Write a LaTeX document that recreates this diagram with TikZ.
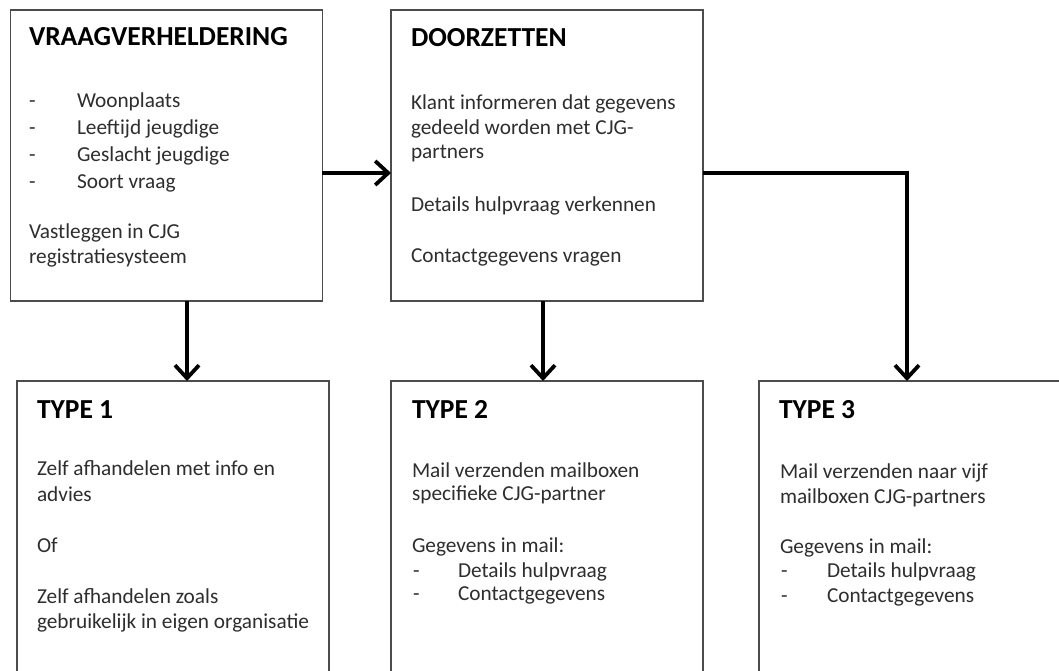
\documentclass[tikz,border=0pt]{standalone}
\usepackage{fontspec}
\setmainfont{Carlito}
\usetikzlibrary{arrows.meta}
\begin{document}
\begin{tikzpicture}[x=1pt,y=-1pt,
  box/.style={draw=black!70, line width=1.1pt, inner sep=0pt, outer sep=0pt, fill=white},
  txt/.style={anchor=base west, inner sep=0pt, outer sep=0pt, text=black!82, font=\fontsize{21.3}{25}\selectfont},
  ttl/.style={anchor=base west, inner sep=0pt, outer sep=0pt, text=black, font=\fontsize{27.5}{32}\selectfont\bfseries},
  conn/.style={line width=4pt, black, -{Straight Barb[length=13pt,width=24pt,line width=3.8pt]}}]
\useasboundingbox (0,0) rectangle (1059,671);
\clip (0,0) rectangle (1059,671);
\fill[white] (0,0) rectangle (1059,671);
% boxes
\node[box, anchor=north west, minimum width=312pt, minimum height=291pt] (A) at (10.5,10) {};
\node[box, anchor=north west, minimum width=312pt, minimum height=291pt] (B) at (391,10) {};
\node[box, anchor=north west, minimum width=312pt, minimum height=320pt] (T1) at (17,381) {};
\node[box, anchor=north west, minimum width=312pt, minimum height=320pt] (T2) at (391,381) {};
\node[box, anchor=north west, minimum width=330pt, minimum height=320pt] (T3) at (759,381) {};
% connector coordinates
\coordinate (a1) at (187,301);
\coordinate (t1) at (187,381);
\coordinate (b2) at (543,301);
\coordinate (t2) at (543,381);
\coordinate (ar) at (322,173);
\coordinate (bl) at (391,173);
\coordinate (br) at (703,173);
\coordinate (bend) at (907,173);
\coordinate (t3) at (907,381);
\draw[conn] (ar) -- (bl);
\draw[conn] (a1) -- (t1);
\draw[conn] (b2) -- (t2);
\draw[conn] (br) -- (bend) -- (t3);
% Box A text
\node[ttl] (Ah) at (29,46) {VRAAGVERHELDERING};
\node[txt] (Ad1) at (29,108) {-};
\node[txt] (Ad2) at (29,135) {-};
\node[txt] (Ad3) at (29,162) {-};
\node[txt] (Ad4) at (29,189) {-};
\node[txt] (Ai1) at (77,108) {Woonplaats};
\node[txt] (Ai2) at (77,135) {Leeftijd jeugdige};
\node[txt] (Ai3) at (77,162) {Geslacht jeugdige};
\node[txt] (Ai4) at (77,189) {Soort vraag};
\node[txt] (Al1) at (29,238) {Vastleggen in CJG};
\node[txt] (Al2) at (29,263) {registratiesysteem};
% Box B text
\node[ttl] (Bh) at (411,47) {DOORZETTEN};
\node[txt] (Bl1) at (411,110) {Klant informeren dat gegevens};
\node[txt] (Bl2) at (411,135) {gedeeld worden met CJG-};
\node[txt] (Bl3) at (411,159) {partners};
\node[txt] (Bl4) at (411,211) {Details hulpvraag verkennen};
\node[txt] (Bl5) at (411,262) {Contactgegevens vragen};
% Type 1
\node[ttl] (T1h) at (37,418) {TYPE 1};
\node[txt] (T1l1) at (37,475) {Zelf afhandelen met info en};
\node[txt] (T1l2) at (37,501) {advies};
\node[txt] (T1l3) at (37,552) {Of};
\node[txt] (T1l4) at (37,603) {Zelf afhandelen zoals};
\node[txt] (T1l5) at (37,628) {gebruikelijk in eigen organisatie};
% Type 2
\node[ttl] (T2h) at (412,418) {TYPE 2};
\node[txt] (T2l1) at (412,477) {Mail verzenden mailboxen};
\node[txt] (T2l2) at (412,500) {specifieke CJG-partner};
\node[txt] (T2l3) at (412,552) {Gegevens in mail:};
\node[txt] (T2d1) at (413,577) {-};
\node[txt] (T2d2) at (413,600) {-};
\node[txt] (T2i1) at (458,577) {Details hulpvraag};
\node[txt] (T2i2) at (458,600) {Contactgegevens};
% Type 3
\node[ttl] (T3h) at (779,418) {TYPE 3};
\node[txt] (T3l1) at (780,478) {Mail verzenden naar vijf};
\node[txt] (T3l2) at (780,503) {mailboxen CJG-partners};
\node[txt] (T3l3) at (780,553) {Gegevens in mail:};
\node[txt] (T3d1) at (781,577) {-};
\node[txt] (T3d2) at (781,602) {-};
\node[txt] (T3i1) at (827,577) {Details hulpvraag};
\node[txt] (T3i2) at (827,602) {Contactgegevens};
\end{tikzpicture}
\end{document}
